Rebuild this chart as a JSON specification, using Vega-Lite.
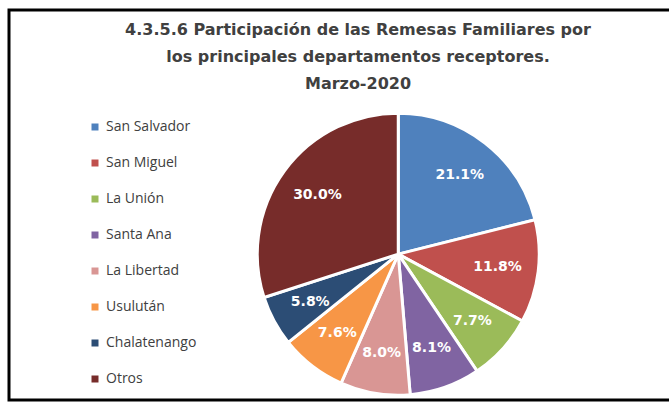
{
  "$schema": "https://vega.github.io/schema/vega-lite/v6.json",
  "width": 662,
  "height": 390,
  "padding": {"left": 9, "top": 10, "right": 0, "bottom": 0},
  "background": "white",
  "config": {"view": {"stroke": "#000000", "strokeWidth": 3}},
  "title": {
    "text": ["4.3.5.6 Participación de las Remesas Familiares por", "los principales departamentos receptores.", "Marzo-2020"],
    "font": "DejaVu Sans",
    "fontSize": 16,
    "fontWeight": "bold",
    "color": "#404040",
    "lineHeight": 27,
    "anchor": "middle",
    "dx": 18,
    "offset": -82
  },
  "data": {
    "values": [
      {"Departamento": "San Salvador", "Porcentaje": 0.211},
      {"Departamento": "San Miguel", "Porcentaje": 0.118},
      {"Departamento": "La Unión", "Porcentaje": 0.077},
      {"Departamento": "Santa Ana", "Porcentaje": 0.081},
      {"Departamento": "La Libertad", "Porcentaje": 0.080},
      {"Departamento": "Usulután", "Porcentaje": 0.076},
      {"Departamento": "Chalatenango", "Porcentaje": 0.058},
      {"Departamento": "Otros", "Porcentaje": 0.300}
    ]
  },
  "transform": [{"window": [{"op": "row_number", "as": "orden"}]}],
  "encoding": {
    "theta": {"field": "Porcentaje", "type": "quantitative", "stack": true},
    "order": {"field": "orden", "type": "quantitative"},
    "x": {"datum": 0.588, "type": "quantitative", "scale": {"domain": [0, 1]}, "axis": null},
    "y": {"datum": 0.374, "type": "quantitative", "scale": {"domain": [0, 1]}, "axis": null}
  },
  "layer": [
    {
      "mark": {"type": "arc", "outerRadius": 141, "stroke": "white", "strokeWidth": 3},
      "encoding": {
        "color": {
          "field": "Departamento",
          "type": "nominal",
          "scale": {
            "domain": ["San Salvador", "San Miguel", "La Unión", "Santa Ana", "La Libertad", "Usulután", "Chalatenango", "Otros"],
            "range": ["#4F81BD", "#C0504D", "#9BBB59", "#8064A2", "#D99694", "#F79646", "#2C4D75", "#772C2A"]
          },
          "legend": {
            "orient": "none",
            "legendX": 79,
            "legendY": 110,
            "title": null,
            "symbolType": "square",
            "symbolSize": 49,
            "symbolStrokeWidth": 0,
            "labelFontSize": 14,
            "labelFont": "Open Sans",
            "labelColor": "#404040",
            "rowPadding": 22,
            "labelOffset": 4,
            "padding": 0
          }
        }
      }
    },
    {
      "mark": {"type": "text", "radius": 100, "fill": "white", "fontWeight": "bold", "fontSize": 14, "font": "DejaVu Sans"},
      "encoding": {
        "text": {"field": "Porcentaje", "type": "quantitative", "format": ".1%"}
      }
    }
  ]
}
